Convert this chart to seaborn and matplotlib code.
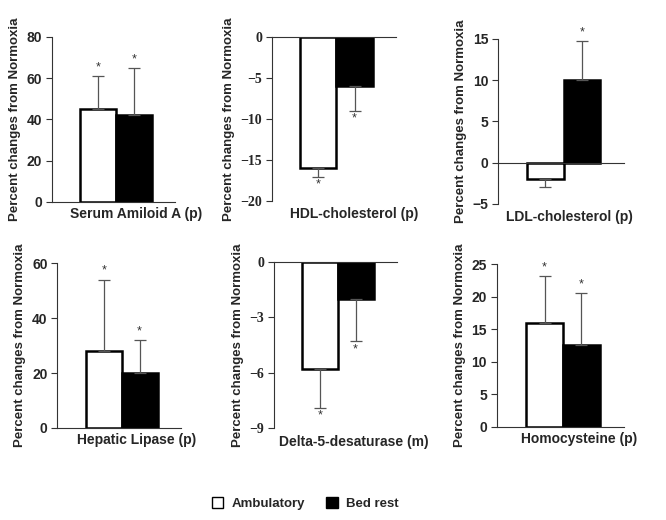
import numpy as np
import pandas as pd
import matplotlib
matplotlib.use('Agg')
import matplotlib.pyplot as plt
import matplotlib.patches as mpatches
import seaborn as sns

# values (percent change from normoxia)
panel_names = ['Serum Amiloid A (p)', 'HDL-cholesterol (p)', 'LDL-cholesterol (p)',
               'Hepatic Lipase (p)', 'Delta-5-desaturase (m)', 'Homocysteine (p)']
ambulatory = [45, -16, -2, 28, -5.8, 16]
bed_rest = [42, -6, 10, 20, -2, 12.6]
ambulatory_err = [16, 1, 1, 26, 2.1, 7.2]
bed_rest_err = [23, 3, 4.7, 12, 2.3, 7.9]
ambulatory_star = [True, True, False, True, True, True]
bed_rest_star = [True, True, True, True, True, True]
y_limits = [(0, 80), (-20, 0), (-5, 15), (0, 60), (-9, 0), (0, 25)]
y_ticks = [[0, 20, 40, 60, 80], [-20, -15, -10, -5, 0], [-5, 0, 5, 10, 15],
           [0, 20, 40, 60], [-9, -6, -3, 0], [0, 5, 10, 15, 20, 25]]
serif_ticks = [False, True, False, False, True, False]

sns.set_style('white')
plt.rcParams['font.family'] = ['Liberation Sans', 'DejaVu Sans']

fig = plt.figure(figsize=(6.66, 5.2), dpi=100)

# axes boxes [left, bottom, width, height] in figure fraction
boxes = [
    [0.078, 0.612, 0.185, 0.317],
    [0.408, 0.613, 0.187, 0.316],
    [0.748, 0.608, 0.189, 0.317],
    [0.086, 0.177, 0.186, 0.317],
    [0.411, 0.177, 0.185, 0.319],
    [0.746, 0.179, 0.191, 0.313],
]
label_x = [0.68, 0.66, 0.57, 0.64, 0.65, 0.65]
label_y = [-0.03, -0.035, -0.04, -0.03, -0.04, -0.03]

for i, name in enumerate(panel_names):
    ax = fig.add_axes(boxes[i])
    df = pd.DataFrame({
        'panel': [name, name],
        'group': ['Ambulatory', 'Bed rest'],
        'value': [ambulatory[i], bed_rest[i]],
    })
    sns.barplot(data=df, x='panel', y='value', hue='group',
                palette={'Ambulatory': 'white', 'Bed rest': 'black'},
                edgecolor='black', linewidth=1.8, width=0.58,
                errorbar=None, legend=False, ax=ax)
    ax.set_xlim(-0.52, 0.48)
    ax.set_ylim(*y_limits[i])
    ax.set_yticks(y_ticks[i])

    errs = [ambulatory_err[i], bed_rest_err[i]]
    stars = [ambulatory_star[i], bed_rest_star[i]]
    vals = [ambulatory[i], bed_rest[i]]
    for p, v, e, s in zip(ax.patches, vals, errs, stars):
        xc = p.get_x() + p.get_width() / 2
        if v >= 0:
            yerr = [[0], [e]]
            tip = v + e
            off = 2
        else:
            yerr = [[e], [0]]
            tip = v - e
            off = -10
        ax.errorbar([xc], [v], yerr=yerr, fmt='none', ecolor='#555555',
                    elinewidth=0.9, capsize=4, capthick=0.9, zorder=1)
        if s:
            ax.annotate('*', (xc, tip), xytext=(0, off), textcoords='offset points',
                        ha='center', va='bottom', fontsize=9, color='#333333')

    sns.despine(ax=ax)
    ax.spines['bottom'].set_position(('data', 0))
    ax.spines['left'].set_color('#333333')
    ax.spines['bottom'].set_color('#333333')
    ax.set_xticks([])
    ax.set_xlabel('')
    ax.set_ylabel('Percent changes from Normoxia', fontsize=9.5, fontweight='bold', labelpad=4)
    ax.tick_params(axis='y', direction='out', length=4, width=0.8, color='#333333',
                   labelsize=10, pad=3, left=True)
    for lab in ax.get_yticklabels():
        lab.set_fontweight('bold')
        if serif_ticks[i]:
            lab.set_family(['Liberation Serif', 'DejaVu Serif'])
    ax.text(label_x[i], label_y[i], name, transform=ax.transAxes, ha='center', va='top',
            fontsize=10, fontweight='bold')

handles = [mpatches.Patch(facecolor='white', edgecolor='black', label='Ambulatory'),
           mpatches.Patch(facecolor='black', edgecolor='black', label='Bed rest')]
fig.legend(handles=handles, loc='center', bbox_to_anchor=(0.458, 0.031), ncol=2,
           frameon=False, prop={'weight': 'bold', 'size': 9.5},
           handlelength=0.9, handleheight=0.9, handletextpad=0.6, columnspacing=1.6)

fig.savefig('out.png', dpi=100)
